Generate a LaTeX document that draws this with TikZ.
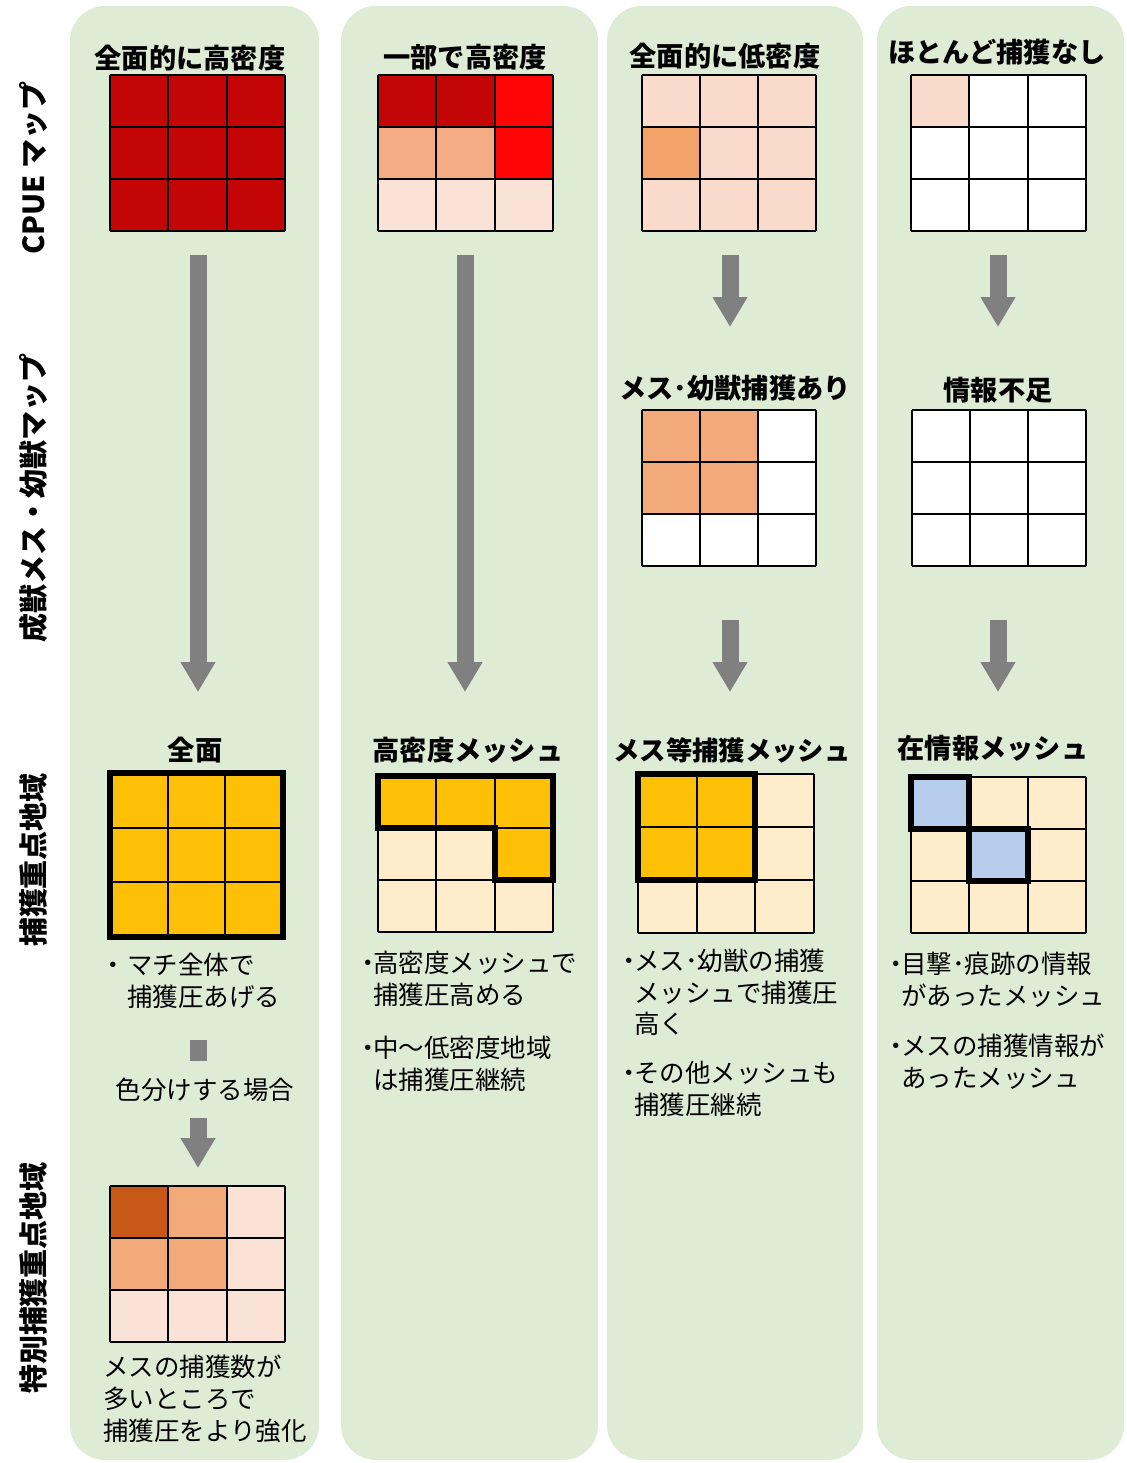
\documentclass[tikz,border=0pt]{standalone}
\usepackage{fontspec}
\setmainfont{Noto Sans CJK JP}
\usetikzlibrary{arrows.meta,fit}
\definecolor{panel}{RGB}{222,236,214}
\definecolor{darkred}{RGB}{195,5,5}
\definecolor{brightred}{RGB}{255,5,5}
\definecolor{salmon}{RGB}{243,172,132}
\definecolor{pinkL}{RGB}{251,226,214}
\definecolor{pinkM}{RGB}{250,218,202}
\definecolor{orangeM}{RGB}{243,162,104}
\definecolor{salmonM}{RGB}{242,170,122}
\definecolor{gold}{RGB}{253,192,5}
\definecolor{cream}{RGB}{254,236,202}
\definecolor{lblue}{RGB}{182,205,235}
\definecolor{rust}{RGB}{200,88,24}
\definecolor{arrowgray}{RGB}{128,128,128}
\tikzset{
  paneltile/.style={fill=panel, rounded corners=0.7cm},
  gridline/.style={draw=black, line width=1.1pt},
  thickline/.style={draw=black, line width=3.4pt, line join=miter},
  title/.style={font=\fontsize{15.5}{18}\selectfont\bfseries, inner sep=0pt},
  body/.style={font=\fontsize{14.5}{18}\selectfont, inner sep=0pt, align=left},
  rowlab/.style={font=\fontsize{16.5}{18}\selectfont\bfseries, inner sep=0pt, rotate=90},
  bigarrow/.style={draw=arrowgray, line width=0.34cm, -{Triangle[width=0.66cm,length=0.6cm]}},
  gridbox/.style={inner sep=0pt, draw=none},
}
\newcommand{\meshgrid}[5]{%
  \foreach \cl [count=\i from 0] in {#5}{%
    \pgfmathtruncatemacro\cc{mod(\i,3)}%
    \pgfmathtruncatemacro\rr{\i/3}%
    \fill[\cl] ({#1+\cc*(#3-#1)/3},{#2+\rr*(#4-#2)/3}) rectangle ({#1+(\cc+1)*(#3-#1)/3},{#2+(\rr+1)*(#4-#2)/3});
  }%
  \foreach \k in {0,1,2,3}{%
    \draw[gridline] ({#1+\k*(#3-#1)/3},#2) -- ({#1+\k*(#3-#1)/3},#4);
    \draw[gridline] (#1,{#2+\k*(#4-#2)/3}) -- (#3,{#2+\k*(#4-#2)/3});
  }%
}
% bulleted block: #1 bullet gap, #2 lines (first & rest)
\newcommand{\bulblock}[2]{\begin{tabular}{@{}l@{\hspace{#1}}l@{}}#2\end{tabular}}
\begin{document}
\begin{tikzpicture}[x=0.02cm,y=-0.02cm]
\useasboundingbox (0,0) rectangle (1126,1463);
\fill[white] (0,0) rectangle (1126,1463);

% panels
\fill[paneltile] (70,6) rectangle (319,1460);
\fill[paneltile] (341,6) rectangle (598,1460);
\fill[paneltile] (607,6) rectangle (863,1460);
\fill[paneltile] (877,6) rectangle (1124,1460);

% row labels
\node[rowlab] (r1) at (33,168) {CPUE マップ};
\node[rowlab] (r2) at (33,498) {成獣メス・幼獣マップ};
\node[rowlab] (r3) at (33,860) {捕獲重点地域};
\node[rowlab] (r4) at (33,1278) {特別捕獲重点地域};

% ---- top row titles
\node[title] (t1) at (190,58) {全面的に高密度};
\node[title] (t2) at (465,57) {一部で高密度};
\node[title] (t3) at (725,56) {全面的に低密度};
\node[title] (t4) at (997,52) {ほとんど捕獲なし};

% ---- top grids
\meshgrid{110}{75}{285}{231}{darkred,darkred,darkred,darkred,darkred,darkred,darkred,darkred,darkred}
\node[gridbox, fit={(110,75) (285,231)}] (g11) {};
\meshgrid{378}{75}{553}{231}{darkred,darkred,brightred,salmon,salmon,brightred,pinkL,pinkL,pinkL}
\node[gridbox, fit={(378,75) (553,231)}] (g21) {};
\meshgrid{642}{75}{816}{231}{pinkM,pinkM,pinkM,orangeM,pinkM,pinkM,pinkM,pinkM,pinkM}
\node[gridbox, fit={(642,75) (816,231)}] (g31) {};
\meshgrid{911}{75}{1086}{231}{pinkM,white,white,white,white,white,white,white,white}
\node[gridbox, fit={(911,75) (1086,231)}] (g41) {};

% ---- middle row
\node[title] (t3m) at (735,388) {メス･幼獣捕獲あり};
\node[title] (t4m) at (998,390) {情報不足};
\meshgrid{642}{410}{816}{566}{salmonM,salmonM,white,salmonM,salmonM,white,white,white,white}
\node[gridbox, fit={(642,410) (816,566)}] (g32) {};
\meshgrid{912}{410}{1086}{566}{white,white,white,white,white,white,white,white,white}
\node[gridbox, fit={(912,410) (1086,566)}] (g42) {};

% ---- arrows
\coordinate (a1s) at (198,255); \coordinate (a1e) at (198,692);
\coordinate (a2s) at (465,255); \coordinate (a2e) at (465,692);
\coordinate (a3s) at (730,255); \coordinate (a3e) at (730,327);
\coordinate (a4s) at (730,620); \coordinate (a4e) at (730,692);
\coordinate (a5s) at (998,255); \coordinate (a5e) at (998,327);
\coordinate (a6s) at (998,620); \coordinate (a6e) at (998,692);
\draw[bigarrow] (a1s) -- (a1e);
\draw[bigarrow] (a2s) -- (a2e);
\draw[bigarrow] (a3s) -- (a3e);
\draw[bigarrow] (a4s) -- (a4e);
\draw[bigarrow] (a5s) -- (a5e);
\draw[bigarrow] (a6s) -- (a6e);

% ---- bottom row titles
\node[title] (t1b) at (195,750) {全面};
\node[title] (t2b) at (468,750) {高密度メッシュ};
\node[title, font=\fontsize{15}{18}\selectfont\bfseries] (t3b) at (732,750) {メス等捕獲メッシュ};
\node[title] (t4b) at (993,748) {在情報メッシュ};

% ---- bottom grids
\meshgrid{110}{773}{283}{937}{gold,gold,gold,gold,gold,gold,gold,gold,gold}
\draw[thickline] (110,773) rectangle (283,937);
\node[gridbox, fit={(110,773) (283,937)}] (g13) {};

\meshgrid{378}{776}{553}{932}{gold,gold,gold,cream,cream,gold,cream,cream,cream}
\draw[thickline] (378,776) -- (553,776) -- (553,880) -- (495,880) -- (495,828) -- (378,828) -- cycle;
\node[gridbox, fit={(378,776) (553,932)}] (g23) {};

\meshgrid{638}{774}{814}{933}{gold,gold,cream,gold,gold,cream,cream,cream,cream}
\draw[thickline] (638,774) rectangle (755,880);
\node[gridbox, fit={(638,774) (814,933)}] (g33) {};

\meshgrid{911}{777}{1086}{933}{lblue,cream,cream,cream,lblue,cream,cream,cream,cream}
\draw[thickline] (911,777) rectangle (969,829);
\draw[thickline] (969,829) rectangle (1028,881);
\node[gridbox, fit={(911,777) (1086,933)}] (g43) {};

% ---- descriptions
\node[body, anchor=north west] (d1) at (100,952) {\bulblock{0.05em}{・&マチ全体で\\ &捕獲圧あげる}};
\node[body, anchor=north west] (d2) at (355,950) {\bulblock{-0.3em}{・&高密度メッシュで\\ &捕獲圧高める}};
\node[body, anchor=north west] (d3) at (355,1035) {\bulblock{-0.3em}{・&中～低密度地域\\ &は捕獲圧継続}};
\node[body, anchor=north west] (d4) at (616,948) {\bulblock{-0.3em}{・&メス･幼獣の捕獲\\ &メッシュで捕獲圧\\ &高く}};
\node[body, anchor=north west] (d5) at (616,1060) {\bulblock{-0.3em}{・&その他メッシュも\\ &捕獲圧継続}};
\node[body, anchor=north west] (d6) at (883,951) {\bulblock{-0.3em}{・&目撃･痕跡の情報\\ &があったメッシュ}};
\node[body, anchor=north west] (d7) at (883,1033) {\bulblock{-0.3em}{・&メスの捕獲情報が\\ &あったメッシュ}};

% ---- color-coding branch in column 1
\fill[arrowgray] (190,1040) rectangle (207,1061);
\node[body] (cb) at (205,1090) {色分けする場合};
\coordinate (a7s) at (198,1118); \coordinate (a7e) at (198,1168);
\draw[bigarrow] (a7s) -- (a7e);

\meshgrid{110}{1186}{285}{1342}{rust,salmonM,pinkL,salmonM,salmonM,pinkL,pinkL,pinkL,pinkL}
\node[gridbox, fit={(110,1186) (285,1342)}] (g14) {};
\node[body, anchor=north west] (d8) at (103,1355) {メスの捕獲数が\\多いところで\\捕獲圧をより強化};

\end{tikzpicture}
\end{document}
